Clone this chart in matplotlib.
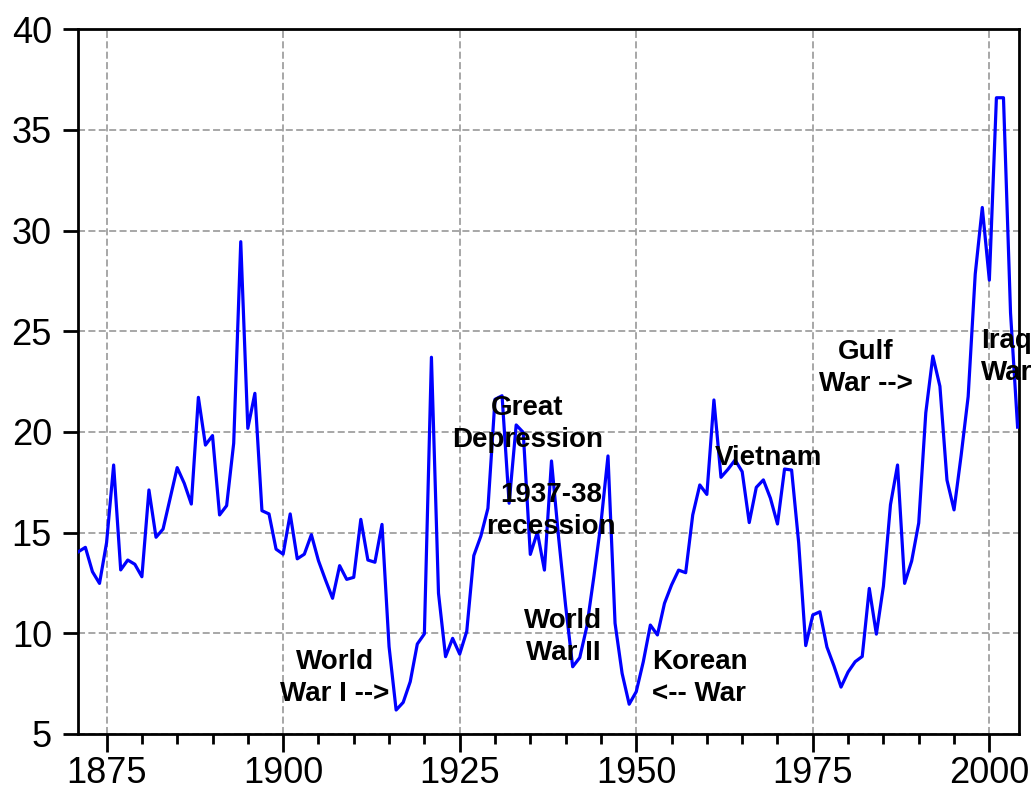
import numpy as np
import matplotlib
matplotlib.use('Agg')
import matplotlib.pyplot as plt
from matplotlib.ticker import MultipleLocator

plt.rcParams['font.family'] = ['Liberation Sans', 'DejaVu Sans']

# yearly values, 1871 - 2004
years = np.arange(1871, 2005)
values = [
    14.05, 14.27, 13.06, 12.48, 14.5, 18.36, 13.15, 13.64, 13.43, 12.81,   # 1871-1880
    17.12, 14.77, 15.18, 16.71, 18.23, 17.45, 16.42, 21.72, 19.35, 19.82,  # 1881-1890
    15.88, 16.34, 19.44, 29.45, 20.18, 21.92, 16.09, 15.93, 14.18, 13.93,  # 1891-1900
    15.93, 13.7, 13.93, 14.9, 13.61, 12.65, 11.74, 13.36, 12.68, 12.78,    # 1901-1910
    15.66, 13.64, 13.53, 15.41, 9.34, 6.19, 6.57, 7.6, 9.47, 9.97,         # 1911-1920
    23.71, 11.99, 8.84, 9.75, 8.97, 10.1, 13.86, 14.83, 16.21, 21.62,      # 1921-1930
    21.8, 16.46, 20.35, 19.98, 13.92, 15.02, 13.14, 18.56, 14.78, 11.37,   # 1931-1940
    8.34, 8.79, 10.33, 12.81, 15.46, 18.81, 10.5, 8.01, 6.48, 7.1,         # 1941-1950
    8.59, 10.41, 9.92, 11.49, 12.4, 13.14, 13.01, 15.88, 17.37, 16.9,      # 1951-1960
    21.59, 17.75, 18.15, 18.61, 18.03, 15.5, 17.25, 17.62, 16.71, 15.43,   # 1961-1970
    18.16, 18.11, 14.5, 9.39, 10.91, 11.07, 9.32, 8.38, 7.33, 8.08,        # 1971-1980
    8.59, 8.85, 12.23, 9.96, 12.34, 16.39, 18.36, 12.48, 13.59, 15.48,     # 1981-1990
    20.95, 23.77, 22.27, 17.61, 16.13, 18.82, 21.76, 27.84, 31.15, 27.54,  # 1991-2000
    36.6, 36.6, 25.92, 20.24,                                              # 2001-2004
]

# annotation texts with their data positions
notes = ['World\nWar I -->', 'Great\nDepression', '1937-38\nrecession', 'World\nWar II',
         'Korean\n<-- War', 'Vietnam', 'Gulf\nWar -->', 'Iraq\nWar']
note_x = [1907.3, 1934.6, 1937.9, 1939.7, 1952.2, 1961.1, 1982.5, 1998.8]
note_y = [7.8, 20.4, 16.1, 9.8, 7.8, 18.7, 23.2, 23.7]
note_ha = ['center', 'center', 'center', 'center', 'left', 'left', 'center', 'left']

fig = plt.figure(figsize=(10.36, 7.96), dpi=100)
ax = fig.add_axes([0.0756, 0.0779, 0.9080, 0.8853])

ax.plot(years, values, color='#0000FF', lw=2.3, zorder=3)

ax.set_xlim(1871, 2004.2)
ax.set_ylim(5, 40)
ax.xaxis.set_major_locator(MultipleLocator(25))
ax.xaxis.set_minor_locator(MultipleLocator(5))
ax.yaxis.set_major_locator(MultipleLocator(5))

ax.grid(True, which='major', color='#909090', lw=1.1, linestyle=(0, (4.6, 2.2)))
ax.tick_params(axis='x', which='major', direction='out', length=13, width=2,
               labelsize=26, pad=3, top=False)
ax.tick_params(axis='x', which='minor', direction='out', length=7, width=2, top=False)
ax.tick_params(axis='y', which='major', direction='out', length=11, width=2,
               labelsize=26, pad=8, right=False)
for sp in ax.spines.values():
    sp.set_linewidth(2)

for t, x, y, ha in zip(notes, note_x, note_y, note_ha):
    ax.text(x, y, t, ha=ha, va='center', fontsize=20, fontweight='bold',
            multialignment=ha, linespacing=1.3, zorder=4)

fig.savefig('out.png', dpi=100)
